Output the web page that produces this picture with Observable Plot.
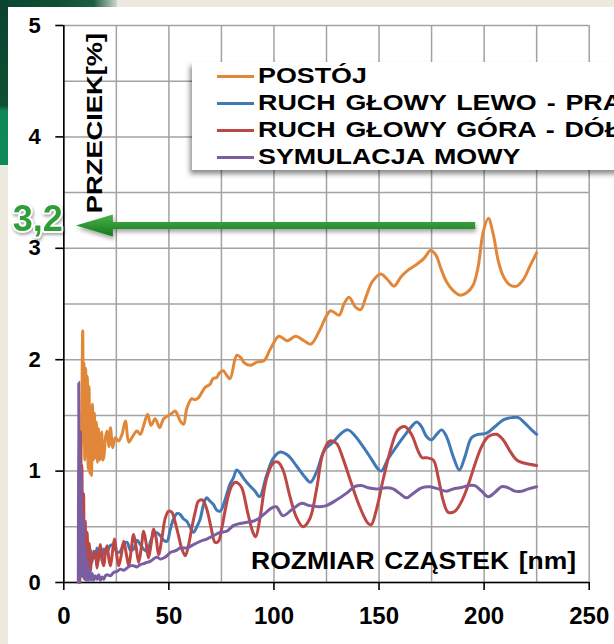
<!DOCTYPE html>
<html>
<head>
<meta charset="utf-8">
<script src="https://cdn.jsdelivr.net/npm/d3@7"></script>
<script src="https://cdn.jsdelivr.net/npm/@observablehq/plot@0.6"></script>
<style>
  html, body { margin:0; padding:0; width:614px; height:644px; overflow:hidden; background:#ECEADF; }
  #wrap { position:absolute; left:0; top:0; width:614px; height:644px; overflow:hidden; font-family:"Liberation Sans", Arial, sans-serif; }
  .bgwhite { position:absolute; left:8px; top:7px; right:0; bottom:0; background:#fff; }
  .gtop { position:absolute; left:0; top:0; width:117px; height:7px; background:linear-gradient(90deg,#0b4630,#124f36 50%,#1d5e42 80%,#cfd6cf); }
  .gleft { position:absolute; left:0; top:0; width:8px; height:165px; background:linear-gradient(180deg,#0a432e 0%,#0e4f35 64%,#0f855a 67%,#0f8a5b 100%); }
  #chart { position:absolute; left:0; top:0; }
  .legend { position:absolute; left:192px; top:62px; width:440px; height:108px; background:#fff; box-shadow:-2px 4px 5px rgba(0,0,0,0.45); }
  .sw { position:absolute; left:25px; width:37px; height:3px; }
  .lt { position:absolute; left:66px; font-weight:bold; font-size:22px; line-height:1; white-space:nowrap; color:#000; word-spacing:2px;
        transform:translateY(-50%) scaleX(1.22); transform-origin:left center; }
  .xtitle { position:absolute; left:576px; top:561px; font-weight:bold; font-size:23px; line-height:1; white-space:nowrap; word-spacing:2px;
        transform:translate(-100%,-50%) scaleX(1.15); transform-origin:right center; }
  .ytitle { position:absolute; left:95px; top:123px; font-weight:bold; font-size:22px; line-height:1; white-space:nowrap;
        transform:translate(-50%,-50%) rotate(-90deg) scaleX(1.24); transform-origin:center; }
  .marklabel { filter: drop-shadow(1px 2px 1.5px rgba(0,0,0,0.35)); }
</style>
</head>
<body>
<div id="wrap">
  <div class="bgwhite"></div>
  <div class="gtop"></div>
  <div class="gleft"></div>
  <div id="chart"></div>
  <div class="ytitle" id="ytitle"></div>
  <div class="xtitle" id="xtitle"></div>
  <div class="legend" id="legend"></div>
</div>
<script>
// ---- data ----
const seriesNames = ["POSTÓJ", "RUCH GŁOWY LEWO - PRAWO", "RUCH GŁOWY GÓRA - DÓŁ", "SYMULACJA MOWY"];
const seriesColors = ["#E2873A", "#4278B6", "#BC4745", "#7B5EA0"];
const xTicks = [0, 50, 100, 150, 200, 250];
const yTicks = [0, 1, 2, 3, 4, 5];
const xTitle = "ROZMIAR CZĄSTEK [nm]";
const yTitle = "PRZECIEK[%]";
const markValue = 3.2;
const markLabel = "3,2";
const arrowTipX = 6, arrowBaseX = 23.6, arrowEndX = 196;

const postoj = [[8.2,1.0],[8.6,1.6],[9.0,2.26],[9.3,1.25],[9.6,1.97],[10.0,1.1],[10.4,1.92],[10.8,1.2],[11.2,1.85],[11.6,1.02],
 [12.0,1.76],[12.4,0.98],[12.8,1.55],[13.2,0.96],[13.6,1.6],[14.0,1.1],[14.5,1.52],[15.0,1.12],[15.5,1.44],[16.0,1.08],
 [16.5,1.38],[17.0,1.1],[17.4,1.27],[18.0,1.35],[18.5,1.1],[19.0,1.12],[19.8,1.3],[20.6,1.36],[21.4,1.22],[22.2,1.39],
 [23.3,1.21],[24.5,1.30],[26.1,1.27],[27.7,1.33],[29.3,1.45],[30.9,1.26],[32.4,1.30],[34.8,1.36],[36.4,1.33],[38.0,1.41],
 [39.9,1.51],[41.5,1.41],[43.5,1.47],[45.6,1.39],[47.5,1.47],[49.8,1.50],[51.5,1.52],[53.0,1.54],[55.4,1.45],[57.0,1.42],
 [58.5,1.56],[60.9,1.65],[62.5,1.64],[64.1,1.66],[65.5,1.70],[67.2,1.75],[69.6,1.78],[71.0,1.83],[72.8,1.84],[74.0,1.88],
 [75.9,1.90],[77.5,1.86],[79.1,1.83],[82.3,2.04],[84.1,2.02],[86.0,1.97],[88.9,1.95],[92.1,1.98],[95.2,1.99],[98.4,2.10],
 [102.4,2.21],[106.3,2.17],[110.3,2.21],[114.3,2.17],[117.5,2.14],[121.4,2.25],[124.6,2.38],[127.0,2.44],[131.0,2.40],[133.3,2.50],
 [135.7,2.56],[138.9,2.47],[141.3,2.45],[143.7,2.56],[146.8,2.70],[150.8,2.77],[154.0,2.72],[157.1,2.66],[160.3,2.74],[163.5,2.80],
 [167.5,2.85],[171.4,2.91],[174.5,2.98],[177.0,2.94],[179.4,2.82],[182.1,2.70],[185.3,2.62],[188.5,2.58],[191.7,2.60],[194.8,2.67],
 [197.2,2.84],[199.6,3.15],[202.0,3.27],[204.4,3.12],[206.7,2.89],[209.1,2.75],[212.3,2.67],[215.5,2.66],[218.7,2.72],[221.8,2.84],[225.0,2.96]];

const lewo = [[7.6,0],[8.2,0.55],[8.8,0.1],[9.5,0.45],[10.2,0.12],[11.0,0.35],[11.8,0.15],[12.6,0.3],[13.4,0.18],[14.2,0.28],
 [15.0,0.22],[15.8,0.31],[16.6,0.2],[17.4,0.31],[18.2,0.22],[19.0,0.30],[20.6,0.28],[22.0,0.33],[23.7,0.34],[25.3,0.27],
 [26.9,0.28],[28.5,0.35],[30.1,0.36],[31.7,0.29],[33.2,0.30],[34.8,0.38],[36.4,0.34],[38.0,0.30],[39.6,0.28],[41.5,0.38],
 [43.5,0.45],[45.9,0.42],[47.5,0.38],[49.1,0.37],[50.7,0.48],[52.2,0.57],[54.0,0.62],[55.4,0.61],[57.0,0.57],[58.5,0.55],
 [60.0,0.50],[61.7,0.45],[63.3,0.50],[64.9,0.57],[66.5,0.70],[68.0,0.76],[69.6,0.73],[71.2,0.70],[72.8,0.65],[74.4,0.64],
 [76.0,0.70],[77.5,0.79],[79.0,0.88],[80.7,0.94],[82.3,1.01],[84.0,0.98],[85.4,0.94],[88.4,0.87],[91.0,0.82],[93.2,0.77],
 [96.3,0.95],[99.5,1.11],[102.7,1.17],[106.7,1.14],[110.6,1.05],[114.6,0.95],[117.3,0.90],[120.2,0.99],[124.1,1.19],[128.1,1.26],
 [132.1,1.34],[135.2,1.37],[138.4,1.32],[142.4,1.22],[146.3,1.11],[149.5,1.02],[151.1,1.00],[154.3,1.11],[158.3,1.22],[162.2,1.32],
 [165.5,1.40],[167.9,1.44],[170.2,1.40],[172.6,1.31],[175.0,1.28],[177.4,1.33],[179.8,1.37],[182.1,1.31],[185.3,1.13],[188.2,1.01],
 [190.9,1.13],[194.0,1.30],[197.2,1.33],[201.2,1.34],[205.2,1.40],[209.1,1.46],[213.1,1.48],[216.3,1.48],[219.4,1.43],[222.6,1.37],[225.0,1.33]];

const gora = [[7.5,0],[7.9,1.35],[8.2,0.2],[8.6,1.05],[9.0,0.15],[9.4,0.8],[9.8,0.1],[10.2,0.55],[10.6,0.12],[11.1,0.45],
 [11.6,0.15],[12.1,0.35],[12.7,0.10],[13.4,0.25],[14.2,0.22],[15.0,0.28],[15.8,0.13],[16.6,0.25],[17.4,0.34],[18.2,0.2],
 [19.0,0.15],[19.8,0.27],[20.6,0.33],[21.4,0.22],[22.2,0.15],[23.2,0.28],[24.1,0.39],[25.1,0.26],[26.1,0.15],[27.3,0.24],
 [28.5,0.37],[29.7,0.26],[30.9,0.15],[32.0,0.28],[33.2,0.43],[34.4,0.32],[35.6,0.18],[36.8,0.30],[38.0,0.46],[39.1,0.36],
 [40.3,0.22],[41.5,0.34],[42.7,0.48],[43.9,0.40],[45.1,0.25],[46.7,0.40],[48.3,0.58],[49.9,0.64],[51.4,0.63],[53.0,0.54],
 [54.6,0.42],[56.2,0.30],[57.8,0.24],[59.3,0.33],[60.9,0.49],[62.5,0.63],[64.1,0.73],[66.0,0.74],[68.0,0.66],[70.0,0.50],
 [72.0,0.36],[73.6,0.37],[75.2,0.49],[76.8,0.65],[78.3,0.78],[80.0,0.87],[81.5,0.90],[83.0,0.89],[84.7,0.85],[87.6,0.62],
 [90.0,0.45],[91.3,0.41],[93.2,0.56],[96.3,0.92],[99.5,1.07],[101.9,1.08],[104.3,1.01],[107.5,0.78],[110.6,0.59],[113.8,0.50],
 [117.0,0.57],[120.2,0.83],[123.3,1.16],[126.5,1.27],[129.7,1.25],[132.9,1.11],[136.8,0.89],[140.8,0.68],[144.8,0.53],[146.3,0.52],
 [148.7,0.65],[151.9,0.92],[155.9,1.22],[159.0,1.37],[162.2,1.40],[165.4,1.33],[168.6,1.18],[170.5,1.12],[172.6,1.12],[175.8,1.10],
 [178.2,0.94],[180.6,0.73],[182.9,0.63],[186.1,0.64],[189.3,0.73],[192.5,0.88],[195.6,1.06],[198.8,1.22],[202.0,1.31],[205.9,1.33],
 [209.1,1.28],[212.3,1.18],[215.5,1.10],[219.4,1.07],[225.0,1.05]];

const mowa = [[6.9,0],[7.1,1.8],[7.3,0.4],[7.6,1.35],[7.9,0.05],[8.2,1.0],[8.5,0.1],[8.8,0.6],[9.1,0.05],[9.4,0.55],
 [9.8,0.03],[10.2,0.3],[10.6,0.02],[11.1,0.2],[11.6,0.02],[12.2,0.12],[12.8,0.02],[13.5,0.08],[14.2,0.02],[15.0,0.06],
 [15.8,0.03],[16.6,0.07],[17.4,0.02],[18.2,0.05],[19.0,0.03],[19.8,0.06],[20.6,0.07],[22.2,0.06],[23.7,0.09],[25.3,0.10],
 [26.9,0.12],[28.5,0.11],[30.1,0.13],[31.7,0.15],[33.2,0.15],[34.8,0.14],[36.4,0.16],[38.0,0.17],[39.6,0.18],[41.1,0.19],
 [42.7,0.21],[44.3,0.23],[45.9,0.21],[47.5,0.22],[49.1,0.24],[50.7,0.27],[52.2,0.28],[53.8,0.29],[55.4,0.31],[58.5,0.31],
 [61.7,0.34],[64.9,0.37],[68.0,0.39],[71.2,0.42],[74.4,0.45],[77.5,0.46],[80.7,0.51],[83.9,0.53],[87.0,0.54],[90.0,0.55],
 [92.4,0.57],[96.3,0.63],[99.0,0.67],[101.1,0.68],[104.3,0.60],[108.3,0.65],[113.0,0.71],[117.0,0.69],[121.7,0.68],[124.9,0.69],
 [129.7,0.74],[134.4,0.80],[138.4,0.86],[141.6,0.87],[144.8,0.85],[148.7,0.84],[153.5,0.85],[156.7,0.84],[159.8,0.80],[163.0,0.76],
 [166.2,0.80],[170.2,0.85],[174.2,0.86],[178.2,0.84],[182.1,0.82],[185.3,0.84],[188.5,0.85],[192.5,0.87],[195.6,0.87],[198.8,0.82],
 [202.0,0.77],[205.2,0.81],[208.3,0.86],[211.5,0.85],[214.7,0.82],[217.9,0.82],[221.1,0.84],[225.0,0.86]];

const seriesPts = [postoj, lewo, gora, mowa];

// ---- build ----
const toRows = pts => pts.map(([x, y]) => ({x, y}));

function arrowMark(a, b) {
  const scales = (a && typeof a.x === "function") ? a : b;
  const sx = scales.x, sy = scales.y;
  const yy = sy(markValue), xt = sx(arrowTipX), xb = sx(arrowBaseX), xe = sx(arrowEndX);
  const g = d3.create("svg:g");
  const defs = g.append("defs");
  const lg = defs.append("linearGradient").attr("id", "arrGrad").attr("x1", 0).attr("y1", 0).attr("x2", 0).attr("y2", 1);
  lg.append("stop").attr("offset", "0%").attr("stop-color", "#49b04c");
  lg.append("stop").attr("offset", "100%").attr("stop-color", "#167a1c");
  const f = defs.append("filter").attr("id", "arrShadow").attr("x", "-10%").attr("y", "-100%").attr("width", "120%").attr("height", "300%");
  f.append("feDropShadow").attr("dx", 1).attr("dy", 3).attr("stdDeviation", 2).attr("flood-color", "#000").attr("flood-opacity", 0.35);
  const hh = 11, sh = 3.5;
  g.append("path")
    .attr("d", `M${xt},${yy} L${xb},${yy - hh} L${xb},${yy - sh} L${xe},${yy - sh} L${xe},${yy + sh} L${xb},${yy + sh} L${xb},${yy + hh} Z`)
    .attr("fill", "url(#arrGrad)")
    .attr("filter", "url(#arrShadow)");
  return g.node();
}

const lineMarks = seriesPts.map((pts, i) =>
  Plot.line(toRows(pts), {x: "x", y: "y", stroke: seriesColors[i], strokeWidth: 3, curve: "catmull-rom", strokeLinejoin: "round"}));

const chart = Plot.plot({
  width: 614, height: 644,
  marginLeft: 63.3, marginRight: 25.3, marginTop: 25, marginBottom: 62,
  x: {domain: [0, 250], label: null},
  y: {domain: [0, 5], label: null},
  style: {background: "transparent", fontFamily: "'Liberation Sans', Arial, sans-serif", color: "#000", overflow: "visible"},
  marks: [
    Plot.gridX(d3.range(0, 251, 25), {stroke: "#a2a2a2", strokeOpacity: 1, strokeWidth: 1.5}),
    Plot.gridY(d3.range(0, 5.01, 0.5), {stroke: "#a2a2a2", strokeOpacity: 1, strokeWidth: 1.5}),
    Plot.ruleX([0], {stroke: "#000", strokeWidth: 1.6}),
    Plot.ruleY([0], {stroke: "#000", strokeWidth: 1.6}),
    Plot.axisX(xTicks, {tickSize: 8, tickPadding: 16, fontSize: 24, fontWeight: "bold", strokeWidth: 1.6, tickFormat: d => String(d), label: null}),
    Plot.axisY(yTicks, {tickSize: 8, tickPadding: 15, fontSize: 22, fontWeight: "bold", strokeWidth: 1.6, tickFormat: d => String(d), label: null}),
    ...lineMarks,
    arrowMark,
    Plot.text([{v: markValue, t: markLabel}], {y: "v", text: "t", frameAnchor: "left", dx: -26, dy: -7,
      textAnchor: "middle", fontSize: 36, fontWeight: "bold", fill: "#2f9e38", stroke: "#ffffff", strokeWidth: 4,
      paintOrder: "stroke", className: "marklabel"})
  ]
});
document.getElementById("chart").appendChild(chart);

document.getElementById("xtitle").textContent = xTitle;
document.getElementById("ytitle").textContent = yTitle;

const legend = document.getElementById("legend");
const rowCenters = [76, 103, 130, 157];
seriesNames.forEach((name, i) => {
  const c = rowCenters[i] - 62;
  const sw = document.createElement("div");
  sw.className = "sw"; sw.style.top = (c - 1.5) + "px"; sw.style.background = seriesColors[i];
  const t = document.createElement("div");
  t.className = "lt"; t.style.top = c + "px"; t.textContent = name;
  legend.appendChild(sw); legend.appendChild(t);
});
</script>
</body>
</html>
